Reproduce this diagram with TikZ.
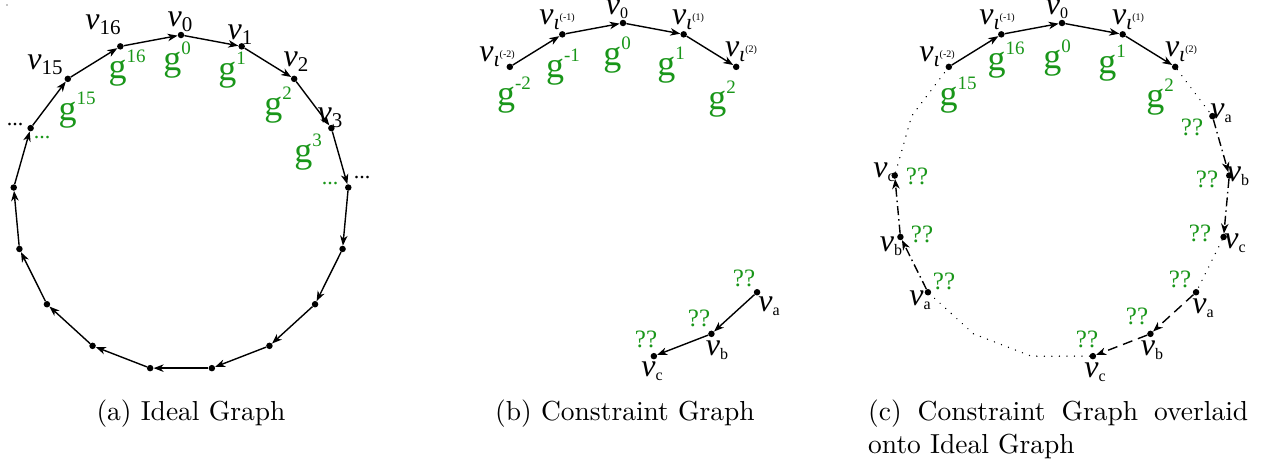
\documentclass[tikz,border=0pt]{standalone}
\usepackage{fontspec}
\newfontfamily\lab{Liberation Serif}
\newfontfamily\capfont[Extension=.otf]{lmroman10-regular}
\usetikzlibrary{arrows.meta}
\definecolor{gr}{RGB}{25,150,25}
\newcommand\VS[1]{{\itshape v}\raisebox{-5pt}{\fontsize{21}{21}\selectfont #1}}
\newcommand\VI[1]{{\itshape v}\raisebox{-5pt}{\fontsize{22}{22}\selectfont\itshape ι\raisebox{9pt}{\upshape\fontsize{10}{10}\selectfont(#1)}}}
\newcommand\VZ[1]{{\itshape v}\raisebox{-4pt}{\fontsize{16}{16}\selectfont #1}}
\newcommand\GG[1]{g\raisebox{16pt}{\fontsize{19}{19}\selectfont #1}}
\begin{document}
\begin{tikzpicture}[x=1pt,y=-1pt,
  vtx/.style={circle,fill=black,inner sep=0pt,minimum size=6.5pt},
  edge/.style={line width=1.4pt,-{Stealth[length=10pt,width=7.5pt,inset=3pt]}},
  dashdot/.style={edge,dash pattern=on 9pt off 4pt on 1.5pt off 4pt},
  dashlong/.style={edge,dash pattern=on 10pt off 6pt},
  dotline/.style={line width=1.5pt,line cap=round,dash pattern=on 0.01pt off 7.5pt},
  vl/.style={font=\lab\fontsize{32}{32}\selectfont,inner sep=0pt,text=black},
  gl/.style={font=\lab\fontsize{36}{36}\selectfont,inner sep=0pt,text=gr},
  ql/.style={font=\lab\fontsize{25}{25}\selectfont,inner sep=0pt,text=gr},
  dl/.style={font=\lab\fontsize{22}{22}\selectfont,inner sep=0pt},
  captxt/.style={font=\capfont\fontsize{27.5}{32}\selectfont,inner sep=0pt}]
\useasboundingbox (0,0) rectangle (1265,461);
\fill (7,5) circle (0.7pt);
% ---------- (a) Ideal graph ----------
\foreach \k in {0,...,16}
  \node[vtx] (a\k) at ({181+168*cos(90-\k*360/17)},{203-168*sin(90-\k*360/17)}) {};
\foreach \k in {0,...,16}{
  \pgfmathtruncatemacro\n{mod(\k+1,17)}
  \draw[edge] (a\k) -- (a\n);}
\node[vl] (la0) at (180,22) {\VS{0}};
\node[vl] (la1) at (240,35) {\VS{1}};
\node[vl] (la2) at (296,62) {\VS{2}};
\node[vl] (la3) at (330,118) {\VS{3}};
\node[vl] (la16) at (103,25) {\VS{16}};
\node[vl] (la15) at (45,65) {\VS{15}};
\node[gl] (ga0) at (177,60) {\GG{0}};
\node[gl] (ga1) at (232,70) {\GG{1}};
\node[gl] (ga2) at (278,105) {\GG{2}};
\node[gl] (ga3) at (308,152) {\GG{3}};
\node[gl] (ga16) at (127,68) {\GG{16}};
\node[gl] (ga15) at (77,110) {\GG{15}};
\node[dl] (ea1) at (15,125) {...};
\node[dl] (ea2) at (362,178) {...};
\node[dl,text=gr] (ea3) at (42,138) {...};
\node[dl,text=gr] (ea4) at (330,184) {...};
\node[captxt,anchor=base] (capa) at (191,420) {(a) Ideal Graph};
% ---------- (b) Constraint graph ----------
\foreach \k in {15,16,0,1,2,6,7,8}
  \node[vtx] (b\k) at ({623+168*cos(90-\k*360/17)},{191-168*sin(90-\k*360/17)}) {};
\draw[edge] (b15) -- (b16);
\draw[edge] (b16) -- (b0);
\draw[edge] (b0) -- (b1);
\draw[edge] (b1) -- (b2);
\draw[edge] (b6) -- (b7);
\draw[edge] (b7) -- (b8);
\node[vl] (lb15) at (497,57) {\VI{-2}};
\node[vl] (lb16) at (557,20) {\VI{-1}};
\node[vl] (lb0) at (617,9) {\VZ{0}};
\node[vl] (lb1) at (688,20) {\VI{1}};
\node[vl] (lb2) at (741,52) {\VI{2}};
\node[gl] (gb15) at (514,95) {\GG{-2}};
\node[gl] (gb16) at (563,67) {\GG{-1}};
\node[gl] (gb0) at (617,55) {\GG{0}};
\node[gl] (gb1) at (671,65) {\GG{1}};
\node[gl] (gb2) at (722,99) {\GG{2}};
\node[vl] (lb6) at (769,306) {\VZ{a}};
\node[vl] (lb7) at (717,350) {\VZ{b}};
\node[vl] (lb8) at (652,371) {\VZ{c}};
\node[ql] (qb6) at (744,278) {??};
\node[ql] (qb7) at (699,318) {??};
\node[ql] (qb8) at (646,339) {??};
\node[captxt,anchor=base] (capb) at (625,420) {(b) Constraint Graph};
% ---------- (c) overlay ----------
\foreach \k in {0,1,2,3,4,5,6,7,8,11,12,13,15,16}
  \node[vtx] (c\k) at ({1062+168*cos(90-\k*360/17)},{191-168*sin(90-\k*360/17)}) {};
\foreach \k in {9,10,14}
  \coordinate (c\k) at ({1062+168*cos(90-\k*360/17)},{191-168*sin(90-\k*360/17)});
\draw[dotline] (c2) -- (c3);
\draw[dotline] (c5) -- (c6);
\draw[dotline] (c8) -- (c9) -- (c10) -- (c11);
\draw[dotline] (c13) -- (c14) -- (c15);
\draw[edge] (c15) -- (c16);
\draw[edge] (c16) -- (c0);
\draw[edge] (c0) -- (c1);
\draw[edge] (c1) -- (c2);
\draw[dashdot] (c3) -- (c4);
\draw[dashdot] (c4) -- (c5);
\draw[dashlong] (c6) -- (c7);
\draw[dashlong] (c7) -- (c8);
\draw[dashdot] (c11) -- (c12);
\draw[dashdot] (c12) -- (c13);
\node[vl] (lc15) at (937,57) {\VI{-2}};
\node[vl] (lc16) at (997,20) {\VI{-1}};
\node[vl] (lc0) at (1057,9) {\VZ{0}};
\node[vl] (lc1) at (1128,20) {\VI{1}};
\node[vl] (lc2) at (1181,52) {\VI{2}};
\node[gl] (gc15) at (958,95) {\GG{15}};
\node[gl] (gc16) at (1006,60) {\GG{16}};
\node[gl] (gc0) at (1057,58) {\GG{0}};
\node[gl] (gc1) at (1112,63) {\GG{1}};
\node[gl] (gc2) at (1160,97) {\GG{2}};
\node[vl] (lc3) at (1221,113) {\VZ{a}};
\node[vl] (lc4) at (1238,176) {\VZ{b}};
\node[vl] (lc5) at (1235,243) {\VZ{c}};
\node[ql] (qc3) at (1192,127) {??};
\node[ql] (qc4) at (1207,179) {??};
\node[ql] (qc5) at (1200,233) {??};
\node[vl] (lc6) at (1203,308) {\VZ{a}};
\node[vl] (lc7) at (1152,350) {\VZ{b}};
\node[vl] (lc8) at (1095,372) {\VZ{c}};
\node[ql] (qc6) at (1180,279) {??};
\node[ql] (qc7) at (1137,316) {??};
\node[ql] (qc8) at (1087,339) {??};
\node[vl] (lc11) at (920,300) {\VZ{a}};
\node[vl] (lc12) at (891,246) {\VZ{b}};
\node[vl] (lc13) at (884,172) {\VZ{c}};
\node[ql] (qc11) at (944,281) {??};
\node[ql] (qc12) at (922,234) {??};
\node[ql] (qc13) at (917,176) {??};
\node[captxt,anchor=base west] (capc1) at (868,420) {\makebox[380pt][s]{(c) Constraint Graph overlaid}};
\node[captxt,anchor=base west] (capc2) at (868,453) {onto Ideal Graph};
\end{tikzpicture}
\end{document}
